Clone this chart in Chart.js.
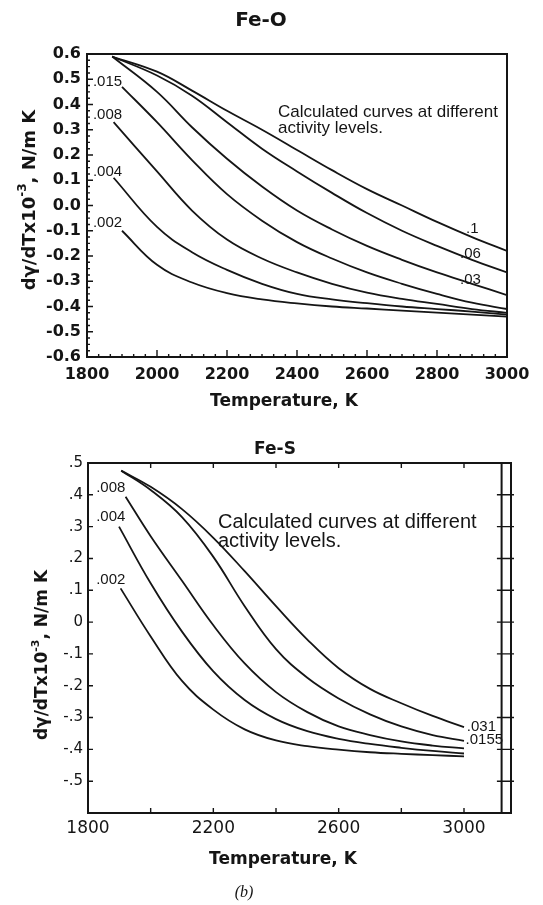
<!DOCTYPE html>
<html>
<head>
<meta charset="utf-8">
<title>Fe-O / Fe-S dγ/dT</title>
<script src="https://cdn.jsdelivr.net/npm/chart.js@4.4.1/dist/chart.umd.min.js"></script>
<style>
    html, body { margin: 0; padding: 0; background: #fff; }
    #page { position: relative; width: 543px; height: 905px; }
    .panel { position: absolute; left: 0; width: 543px; }
    #feOPanel { top: 0; height: 430px; }
    #feSPanel { top: 430px; height: 475px; }
</style>
</head>
<body>
<div id="page">
    <div class="panel" id="feOPanel"><canvas id="feOChart"></canvas></div>
    <div class="panel" id="feSPanel"><canvas id="feSChart"></canvas></div>
</div>
<script>
// Values (dγ/dT x10^-3, N/m K vs temperature, K)

// Fe-O panel: one curve per oxygen activity
const feOActivities = ['.1', '.06', '.03', '.015', '.008', '.004', '.002'];
const feOTemps = [2000, 2100, 2200, 2300, 2400, 2500, 2600, 2700, 2800, 2900, 3000];
const feOStartT = [1872, 1872, 1872, 1900, 1876, 1876, 1900];
const feOStartV = [0.59, 0.59, 0.59, 0.47, 0.33, 0.11, -0.10];
const feO100 = [0.53, 0.455, 0.375, 0.30, 0.22, 0.14, 0.065, 0.0, -0.065, -0.125, -0.18];
const feO060 = [0.515, 0.435, 0.33, 0.225, 0.135, 0.05, -0.03, -0.10, -0.16, -0.215, -0.265];
const feO030 = [0.45, 0.31, 0.185, 0.075, -0.02, -0.095, -0.16, -0.215, -0.265, -0.31, -0.355];
const feO015 = [0.33, 0.18, 0.045, -0.06, -0.145, -0.21, -0.265, -0.31, -0.35, -0.385, -0.41];
const feO008 = [0.135, -0.02, -0.135, -0.21, -0.265, -0.31, -0.345, -0.37, -0.39, -0.41, -0.425];
const feO004 = [-0.085, -0.185, -0.255, -0.31, -0.35, -0.372, -0.387, -0.40, -0.41, -0.42, -0.432];
const feO002 = [-0.235, -0.305, -0.347, -0.372, -0.388, -0.40, -0.408, -0.416, -0.424, -0.432, -0.44];
const feOXTicks = [1800, 2000, 2200, 2400, 2600, 2800, 3000];
const feOYTicks = [0.6, 0.5, 0.4, 0.3, 0.2, 0.1, 0, -0.1, -0.2, -0.3, -0.4, -0.5, -0.6];

// Fe-S panel: one curve per sulphur activity
const feSActivities = ['.031', '.0155', '.008', '.004', '.002'];
const feSTemps = [2000, 2100, 2200, 2300, 2400, 2500, 2600, 2700, 2800, 2900, 3000];
const feSStartT = [1906, 1906, 1920, 1899, 1904];
const feSStartV = [0.476, 0.476, 0.394, 0.30, 0.106];
const feS031 = [0.425, 0.355, 0.265, 0.16, 0.05, -0.055, -0.145, -0.21, -0.255, -0.295, -0.33];
const feS0155 = [0.415, 0.33, 0.205, 0.05, -0.085, -0.175, -0.24, -0.29, -0.328, -0.355, -0.373];
const feS008 = [0.27, 0.13, -0.01, -0.13, -0.22, -0.283, -0.328, -0.355, -0.375, -0.388, -0.397];
const feS004 = [0.122, -0.03, -0.155, -0.245, -0.305, -0.343, -0.367, -0.383, -0.395, -0.405, -0.413];
const feS002 = [-0.045, -0.185, -0.275, -0.337, -0.372, -0.39, -0.401, -0.409, -0.414, -0.418, -0.422];
const feSXTicks = [1800, 2200, 2600, 3000];
const feSYTicks = [0.5, 0.4, 0.3, 0.2, 0.1, 0, -0.1, -0.2, -0.3, -0.4, -0.5];

const ink = '#151515';
const sans = 'Liberation Sans, Arial, sans-serif';
const wide = 'DejaVu Sans, Verdana, sans-serif';
const yTitleParts = [['dγ/dTx10', false], ['-3', true], [', N/m K', false]];

// start point + common temperature grid -> {x, y} points
function buildSeries(t0, v0, temps, values) {
    const pts = [{ x: t0, y: v0 }];
    temps.forEach((t, i) => pts.push({ x: t, y: values[i] }));
    return pts;
}

function curveSets(labels, starts, startVals, temps, rows) {
    return rows.map((row, i) => ({
        label: labels[i],
        data: buildSeries(starts[i], startVals[i], temps, row),
        borderColor: ink,
        borderWidth: 1.8,
        pointRadius: 0,
        fill: false,
        tension: 0.4
    }));
}

function steps(from, to, step) {
    const out = [];
    for (let v = from; v <= to + step / 1000; v += step) out.push(+v.toFixed(4));
    return out;
}

function drawText(ctx, item) {
    ctx.save();
    ctx.translate(item.px, item.py);
    if (item.rotate) ctx.rotate(item.rotate);
    ctx.textBaseline = 'middle';
    ctx.textAlign = 'left';
    const parts = item.parts || [[item.text, false]];
    const fontFor = sup => (item.style || 'normal') + ' ' + (item.weight || 'normal') + ' ' +
        (sup ? Math.round(item.size * 0.65) : item.size) + 'px ' + item.family;
    let total = 0;
    parts.forEach(([t, sup]) => { ctx.font = fontFor(sup); total += ctx.measureText(t).width; });
    let cx = item.align === 'left' ? 0 : -total / 2;
    parts.forEach(([t, sup]) => {
        ctx.font = fontFor(sup);
        ctx.fillText(t, cx, sup ? -item.size * 0.38 : 0);
        cx += ctx.measureText(t).width;
    });
    ctx.restore();
}

// frame, inward tick marks, titles and curve labels
const decorPlugin = {
    id: 'decor',
    afterDatasetsDraw(chart, args, opts) {
        const { ctx, chartArea: a, scales: { x, y } } = chart;
        ctx.save();
        ctx.strokeStyle = ink;
        ctx.fillStyle = ink;
        ctx.lineWidth = 2;
        ctx.strokeRect(a.left, a.top, a.right - a.left, a.bottom - a.top);

        ctx.lineWidth = 1.4;
        ctx.beginPath();
        (opts.marks || []).forEach(m => {
            m.values.forEach(v => {
                if (m.side === 'left') {
                    const py = y.getPixelForValue(v);
                    ctx.moveTo(a.left, py); ctx.lineTo(a.left + m.len, py);
                } else if (m.side === 'span') {
                    const py = y.getPixelForValue(v);
                    ctx.moveTo(x.getPixelForValue(m.from), py); ctx.lineTo(a.right + m.len, py);
                } else if (m.side === 'bottom') {
                    const px = x.getPixelForValue(v);
                    ctx.moveTo(px, a.bottom); ctx.lineTo(px, a.bottom - m.len);
                } else if (m.side === 'top') {
                    const px = x.getPixelForValue(v);
                    ctx.moveTo(px, a.top); ctx.lineTo(px, a.top + m.len);
                }
            });
        });
        ctx.stroke();

        if (opts.innerLine) {
            ctx.lineWidth = 2;
            const px = x.getPixelForValue(opts.innerLine);
            ctx.beginPath();
            ctx.moveTo(px, a.top); ctx.lineTo(px, a.bottom);
            ctx.stroke();
        }

        (opts.curveLabels || []).forEach(l => {
            drawText(ctx, {
                text: l.text, px: x.getPixelForValue(l.t), py: y.getPixelForValue(l.v),
                size: opts.labelSize, family: sans, align: 'left'
            });
        });
        (opts.texts || []).forEach(t => drawText(ctx, t));
        ctx.restore();
    }
};

// Fe-O minor ticks: every 0.025 on y, every 200/6 K on x
const feOMinorY = steps(-0.6, 0.6, 0.025);
const feOMinorX = steps(1800, 3000, 200 / 6);

new Chart(document.getElementById('feOChart'), {
    type: 'line',
    data: {
        datasets: curveSets(feOActivities, feOStartT, feOStartV, feOTemps,
            [feO100, feO060, feO030, feO015, feO008, feO004, feO002])
    },
    options: {
        responsive: true,
        maintainAspectRatio: false,
        animation: false,
        layout: { padding: { top: 54, right: 36, bottom: 0, left: 0 } },
        scales: {
            x: {
                type: 'linear', min: 1800, max: 3000,
                afterBuildTicks: s => { s.ticks = feOXTicks.map(v => ({ value: v })); },
                afterFit: s => { s.height = 73; },
                grid: { display: false, drawTicks: false },
                border: { display: false },
                ticks: {
                    autoSkip: false, maxRotation: 0, padding: 8, color: ink,
                    font: { family: wide, size: 16, weight: 'bold' },
                    callback: v => String(v)
                }
            },
            y: {
                min: -0.6, max: 0.6,
                afterBuildTicks: s => { s.ticks = feOYTicks.map(v => ({ value: v })); },
                afterFit: s => { s.width = 87; },
                grid: { display: false, drawTicks: false },
                border: { display: false },
                ticks: {
                    padding: 6, color: ink,
                    font: { family: wide, size: 16, weight: 'bold' },
                    callback: v => v.toFixed(1)
                }
            }
        },
        plugins: {
            legend: { display: false },
            tooltip: { enabled: false },
            decor: {
                labelSize: 15,
                marks: [
                    { side: 'left', values: feOMinorY, len: 3 },
                    { side: 'left', values: feOYTicks, len: 6 },
                    { side: 'bottom', values: feOMinorX, len: 3 },
                    { side: 'bottom', values: feOXTicks, len: 7 }
                ],
                curveLabels: [
                    { text: '.015', t: 1817, v: 0.489 },
                    { text: '.008', t: 1817, v: 0.358 },
                    { text: '.004', t: 1817, v: 0.133 },
                    { text: '.002', t: 1817, v: -0.069 },
                    { text: '.1', t: 2883, v: -0.093 },
                    { text: '.06', t: 2866, v: -0.192 },
                    { text: '.03', t: 2866, v: -0.295 }
                ],
                texts: [
                    { text: 'Fe-O', px: 261, py: 21, size: 20, weight: 'bold', family: wide },
                    { text: 'Temperature, K', px: 284, py: 402, size: 17, weight: 'bold', family: wide },
                    { parts: yTitleParts, px: 30, py: 200, size: 18, weight: 'bold', family: wide, rotate: -Math.PI / 2 },
                    { text: 'Calculated curves at different', px: 278, py: 112, size: 17, family: sans, align: 'left' },
                    { text: 'activity levels.', px: 278, py: 128, size: 17, family: sans, align: 'left' }
                ]
            }
        }
    },
    plugins: [decorPlugin]
});

// Fe-S ticks every 200 K along top and bottom
const feSXMarks = steps(2000, 3000, 200);

new Chart(document.getElementById('feSChart'), {
    type: 'line',
    data: {
        datasets: curveSets(feSActivities, feSStartT, feSStartV, feSTemps,
            [feS031, feS0155, feS008, feS004, feS002])
    },
    options: {
        responsive: true,
        maintainAspectRatio: false,
        animation: false,
        layout: { padding: { top: 33, right: 32, bottom: 0, left: 0 } },
        scales: {
            x: {
                type: 'linear', min: 1800, max: 3150,
                afterBuildTicks: s => { s.ticks = feSXTicks.map(v => ({ value: v })); },
                afterFit: s => { s.height = 92; },
                grid: { display: false, drawTicks: false },
                border: { display: false },
                ticks: {
                    autoSkip: false, maxRotation: 0, padding: 5, color: ink,
                    font: { family: wide, size: 17 },
                    callback: v => String(v)
                }
            },
            y: {
                min: -0.6, max: 0.5,
                afterBuildTicks: s => { s.ticks = feSYTicks.map(v => ({ value: v })); },
                afterFit: s => { s.width = 88; },
                grid: { display: false, drawTicks: false },
                border: { display: false },
                ticks: {
                    padding: 5, color: ink,
                    font: { family: wide, size: 15 },
                    callback: v => (v === 0 ? '0' : String(v).replace('0.', '.'))
                }
            }
        },
        plugins: {
            legend: { display: false },
            tooltip: { enabled: false },
            decor: {
                labelSize: 15,
                innerLine: 3120,
                marks: [
                    { side: 'left', values: feSYTicks.slice(1), len: 5 },
                    { side: 'span', values: feSYTicks.slice(1), from: 3105, len: 3 },
                    { side: 'bottom', values: feSXMarks, len: 5 },
                    { side: 'top', values: feSXMarks, len: 5 }
                ],
                curveLabels: [
                    { text: '.008', t: 1826, v: 0.421 },
                    { text: '.004', t: 1826, v: 0.330 },
                    { text: '.002', t: 1826, v: 0.132 },
                    { text: '.031', t: 3009, v: -0.330 },
                    { text: '.0155', t: 3005, v: -0.371 }
                ],
                texts: [
                    { text: 'Fe-S', px: 275, py: 20, size: 17, weight: 'bold', family: wide },
                    { text: 'Temperature, K', px: 283, py: 430, size: 17, weight: 'bold', family: wide },
                    { text: '(b)', px: 244, py: 463, size: 16, style: 'italic', family: 'Liberation Serif, serif' },
                    { parts: yTitleParts, px: 43, py: 225, size: 17, weight: 'bold', family: wide, rotate: -Math.PI / 2 },
                    { text: 'Calculated curves at different', px: 218, py: 92, size: 20, family: sans, align: 'left' },
                    { text: 'activity levels.', px: 218, py: 111, size: 20, family: sans, align: 'left' }
                ]
            }
        }
    },
    plugins: [decorPlugin]
});
</script>
</body>
</html>
